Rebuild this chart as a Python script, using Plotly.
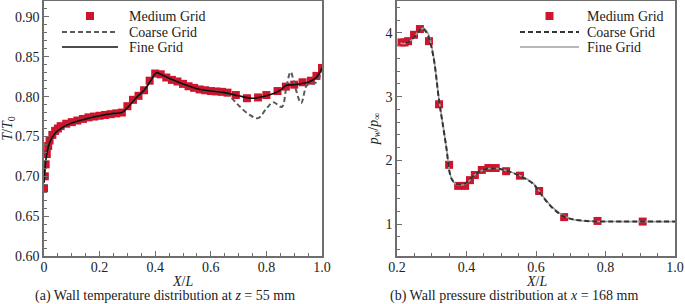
import plotly.graph_objects as go

# ---------------- Left panel: wall temperature ----------------
med_t_x = [0.0, 0.003, 0.006, 0.01, 0.015, 0.02, 0.03, 0.04, 0.05, 0.06, 0.08, 0.10, 0.12, 0.14,
           0.16, 0.18, 0.20, 0.22, 0.24, 0.26, 0.28, 0.30, 0.32, 0.34, 0.36, 0.38, 0.40, 0.42,
           0.44, 0.46, 0.48, 0.50, 0.52, 0.54, 0.56, 0.58, 0.60, 0.62, 0.64, 0.66, 0.69, 0.73,
           0.77, 0.80, 0.84, 0.87, 0.90, 0.93, 0.96, 0.98, 1.0]
med_t_y = [0.685, 0.700, 0.715, 0.728, 0.738, 0.745, 0.752, 0.757, 0.760, 0.763, 0.766, 0.768,
           0.770, 0.772, 0.774, 0.775, 0.776, 0.777, 0.778, 0.779, 0.780, 0.788, 0.796, 0.801,
           0.808, 0.820, 0.829, 0.828, 0.824, 0.821, 0.819, 0.816, 0.813, 0.811, 0.809, 0.808,
           0.807, 0.8065, 0.806, 0.805, 0.802, 0.798, 0.799, 0.802, 0.807, 0.8125, 0.815,
           0.818, 0.820, 0.826, 0.836]

fine_t_x = [0.0, 0.005, 0.01, 0.02, 0.04, 0.07, 0.10, 0.15, 0.20, 0.25, 0.28, 0.30, 0.33, 0.36,
            0.38, 0.405, 0.42, 0.45, 0.50, 0.55, 0.60, 0.65, 0.70, 0.75, 0.80, 0.85, 0.87,
            0.90, 0.95, 0.98, 1.0]
fine_t_y = [0.692, 0.715, 0.728, 0.742, 0.754, 0.762, 0.767, 0.772, 0.776, 0.779, 0.780, 0.786,
            0.798, 0.808, 0.818, 0.830, 0.828, 0.823, 0.816, 0.810, 0.807, 0.805, 0.801, 0.798,
            0.801, 0.808, 0.814, 0.815, 0.818, 0.824, 0.836]

coarse_t_x = [0.0, 0.005, 0.01, 0.02, 0.04, 0.07, 0.10, 0.15, 0.20, 0.25, 0.28, 0.30, 0.33, 0.36,
              0.38, 0.405, 0.42, 0.45, 0.50, 0.55, 0.60, 0.65, 0.67, 0.70, 0.74, 0.77, 0.80,
              0.825, 0.855, 0.872, 0.887, 0.905, 0.925, 0.945, 0.96, 0.98, 1.0]
coarse_t_y = [0.692, 0.715, 0.728, 0.742, 0.754, 0.762, 0.767, 0.772, 0.776, 0.779, 0.780, 0.786,
              0.798, 0.808, 0.818, 0.830, 0.828, 0.823, 0.816, 0.810, 0.807, 0.805, 0.800,
              0.789, 0.777, 0.773, 0.785, 0.793, 0.787, 0.812, 0.831, 0.810, 0.792, 0.814,
              0.816, 0.818, 0.835]

# ---------------- Right panel: wall pressure ----------------
med_p_x = [0.213, 0.222, 0.232, 0.249, 0.266, 0.292, 0.321, 0.350, 0.376, 0.396, 0.410, 0.424,
           0.444, 0.463, 0.484, 0.514, 0.554, 0.609, 0.681, 0.777, 0.907]
med_p_y = [3.85, 3.85, 3.87, 3.97, 4.06, 3.87, 2.88, 1.93, 1.60, 1.60, 1.69, 1.77, 1.85, 1.88,
           1.88, 1.83, 1.76, 1.52, 1.11, 1.05, 1.04]

fine_p_x = [0.21, 0.22, 0.235, 0.25, 0.262, 0.274, 0.282, 0.292, 0.305, 0.321, 0.333, 0.343,
            0.352, 0.362, 0.38, 0.40, 0.43, 0.46, 0.49, 0.525, 0.563, 0.592, 0.621, 0.65, 0.68,
            0.71, 0.76, 0.85, 1.0]
fine_p_y = [3.84, 3.83, 3.86, 3.94, 4.02, 4.07, 4.05, 3.96, 3.63, 2.95, 2.53, 2.17, 1.80, 1.66,
            1.61, 1.64, 1.80, 1.87, 1.87, 1.82, 1.74, 1.64, 1.43, 1.25, 1.13, 1.07, 1.045,
            1.04, 1.04]

coarse_p_x = [0.225, 0.235, 0.25, 0.262, 0.272, 0.28, 0.29, 0.305, 0.321, 0.333, 0.343, 0.352,
              0.362, 0.38, 0.40, 0.43, 0.46, 0.49, 0.525, 0.563, 0.592, 0.621, 0.65, 0.68,
              0.71, 0.76, 0.85, 1.0]
coarse_p_y = [3.84, 3.86, 3.94, 4.02, 4.07, 4.04, 3.95, 3.62, 2.94, 2.52, 2.16, 1.80, 1.67,
              1.62, 1.65, 1.80, 1.87, 1.87, 1.82, 1.73, 1.63, 1.42, 1.24, 1.12, 1.07, 1.045,
              1.04, 1.04]

x_left_ticks = [0, 0.2, 0.4, 0.6, 0.8, 1.0]
x_left_labels = ["0", "0.2", "0.4", "0.6", "0.8", "1.0"]
y_left_ticks = [0.60, 0.65, 0.70, 0.75, 0.80, 0.85, 0.90]
y_left_labels = ["0.60", "0.65", "0.70", "0.75", "0.80", "0.85", "0.90"]
x_right_ticks = [0.2, 0.4, 0.6, 0.8, 1.0]
x_right_labels = ["0.2", "0.4", "0.6", "0.8", "1.0"]
y_right_ticks = [1, 2, 3, 4]
y_right_labels = ["1", "2", "3", "4"]
legend_names = ["Medium Grid", "Coarse Grid", "Fine Grid"]

RED = "#d0142c"
FONT = "Liberation Serif"
TXT = "#222222"
W, H = 685, 304
MT, MB = 1, 48


def px(x):
    return x / W


def py(y):
    return (H - MB - y) / (H - MB - MT)


fig = go.Figure()
fig.add_trace(go.Scatter(x=med_t_x, y=med_t_y, mode="markers", name=legend_names[0],
                         marker=dict(symbol="square", size=8, color=RED),
                         xaxis="x", yaxis="y", showlegend=False))
fig.add_trace(go.Scatter(x=coarse_t_x, y=coarse_t_y, mode="lines", name=legend_names[1],
                         line=dict(color="#5a5a5a", width=2, dash="5px,3px", shape="spline"),
                         xaxis="x", yaxis="y", showlegend=False))
fig.add_trace(go.Scatter(x=fine_t_x, y=fine_t_y, mode="lines", name=legend_names[2],
                         line=dict(color="#111111", width=1.6, shape="spline"),
                         xaxis="x", yaxis="y", showlegend=False))

fig.add_trace(go.Scatter(x=med_p_x, y=med_p_y, mode="markers", name=legend_names[0],
                         marker=dict(symbol="square", size=8, color=RED),
                         xaxis="x2", yaxis="y2", showlegend=False))
fig.add_trace(go.Scatter(x=fine_p_x, y=fine_p_y, mode="lines", name=legend_names[2],
                         line=dict(color="#a0a0a0", width=1.6, shape="spline"),
                         xaxis="x2", yaxis="y2", showlegend=False))
fig.add_trace(go.Scatter(x=coarse_p_x, y=coarse_p_y, mode="lines", name=legend_names[1],
                         line=dict(color="#333333", width=2, dash="5px,3px", shape="spline"),
                         xaxis="x2", yaxis="y2", showlegend=False))

# ---- legends drawn as keys (samples + labels) ----
shapes = []
annotations = []
legend_specs = [
    # (sample x0, sample x1, text x, coarse colour, fine colour)
    (62, 118, 127, "#5a5a5a", "#111111"),
    (520, 579, 585, "#333333", "#a0a0a0"),
]
rows = [16, 32, 47]
for x0, x1, tx, ccol, fcol in legend_specs:
    cx = (x0 + x1) / 2
    shapes.append(dict(type="rect", xref="paper", yref="paper",
                       x0=px(cx - 4), x1=px(cx + 4), y0=py(rows[0] + 4), y1=py(rows[0] - 4),
                       fillcolor=RED, line=dict(width=0)))
    shapes.append(dict(type="line", xref="paper", yref="paper",
                       x0=px(x0), x1=px(x1), y0=py(rows[1]), y1=py(rows[1]),
                       line=dict(color=ccol, width=2, dash="5px,3px")))
    shapes.append(dict(type="line", xref="paper", yref="paper",
                       x0=px(x0), x1=px(x1), y0=py(rows[2]), y1=py(rows[2]),
                       line=dict(color=fcol, width=1.6)))
    for name, ry in zip(legend_names, rows):
        annotations.append(dict(text=name, xref="paper", yref="paper", x=px(tx), y=py(ry),
                                xanchor="left", yanchor="middle", showarrow=False,
                                font=dict(family=FONT, size=14, color=TXT)))

# x-axis titles and captions
for cx in [183, 536]:
    annotations.append(dict(text="<i>X</i>/<i>L</i>", xref="paper", yref="paper",
                            x=px(cx), y=py(281), xanchor="center", yanchor="middle",
                            showarrow=False, font=dict(family=FONT, size=14, color=TXT)))
for cx, cap in [(165, "(a) Wall temperature distribution at <i>z</i> = 55 mm"),
                (514, "(b) Wall pressure distribution at <i>x</i> = 168 mm")]:
    annotations.append(dict(text=cap, xref="paper", yref="paper", x=px(cx), y=py(296.5),
                            xanchor="center", yanchor="middle", showarrow=False,
                            font=dict(family=FONT, size=14, color=TXT)))

axis_common = dict(showline=True, linecolor="#6e6e6e", linewidth=1.5, mirror=True,
                   ticks="inside", ticklen=5, tickwidth=1, tickcolor="#6e6e6e",
                   showgrid=False, zeroline=False, automargin=False,
                   tickfont=dict(family=FONT, size=14, color=TXT))

fig.update_layout(
    width=W, height=H,
    margin=dict(l=0, r=0, t=MT, b=MB),
    paper_bgcolor="white", plot_bgcolor="white",
    font=dict(family=FONT, size=14, color=TXT),
    showlegend=False,
    xaxis=dict(domain=[px(44), px(322)], range=[0, 1.0], tickvals=x_left_ticks,
               ticktext=x_left_labels, anchor="y", ticklabelstandoff=-3,
               minor=dict(dtick=0.05, ticks="inside", ticklen=3, tickcolor="#6e6e6e"),
               **axis_common),
    yaxis=dict(domain=[0, 1], range=[0.6, 0.92], tickvals=y_left_ticks,
               ticktext=y_left_labels, anchor="x",
               minor=dict(dtick=0.01, ticks="inside", ticklen=3, tickcolor="#6e6e6e"),
               title=dict(text="<i>T</i>/<i>T</i><sub>0</sub>", standoff=4,
                          font=dict(family=FONT, size=14)),
               **axis_common),
    xaxis2=dict(domain=[px(397), px(675)], range=[0.2, 1.0], tickvals=x_right_ticks,
                ticktext=x_right_labels, anchor="y2", ticklabelstandoff=-3,
                minor=dict(dtick=0.05, ticks="inside", ticklen=3, tickcolor="#6e6e6e"),
                **axis_common),
    yaxis2=dict(domain=[0, 1], range=[0.5, 4.5], tickvals=y_right_ticks,
                ticktext=y_right_labels, anchor="x2",
                minor=dict(dtick=0.2, ticks="inside", ticklen=3, tickcolor="#6e6e6e"),
                title=dict(text="<i>p</i><sub><i>w</i></sub>/<i>p</i><sub>∞</sub>", standoff=4,
                           font=dict(family=FONT, size=14)),
                **axis_common),
    shapes=shapes,
    annotations=annotations,
)

fig.write_html("out.html", config={"displayModeBar": False},
               post_script="document.body.style.margin='0';document.body.style.padding='0';")
